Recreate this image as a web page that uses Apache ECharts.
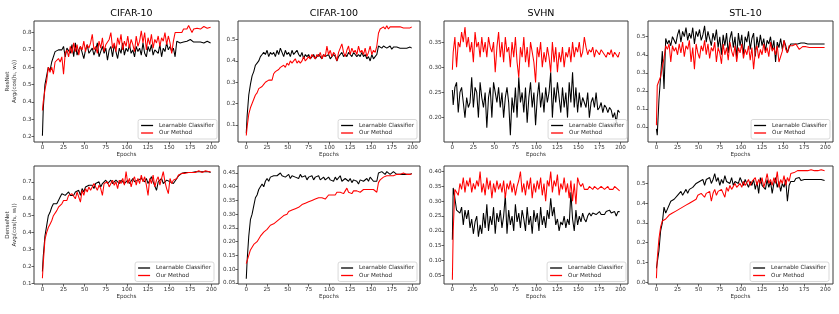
<!DOCTYPE html>
<html>
<head>
<meta charset="utf-8">
<script src="https://cdn.jsdelivr.net/npm/echarts@6/dist/echarts.min.js"></script>
<style>html,body{margin:0;padding:0;background:#fff;}#c{width:839px;height:314px;}</style>
</head>
<body>
<div id="c"></div>
<script>
// ---------- data ----------
const epochs = [0,1,3,5,7,9,11,13,15,17,19,21,23,25,27,29,31,33,35,37,39,41,43,45,47,49,51,53,55,57,59,61,63,65,67,69,71,73,75,77,79,81,83,85,87,89,91,93,95,97,99,101,103,105,107,109,111,113,115,117,119,121,123,125,127,129,131,133,135,137,139,141,143,145,147,149,151,153,155,157,159,161,163,165,167,169,171,173,175,177,179,181,183,185,187,189,191,193,195,197,199];

const titles = ['CIFAR-10','CIFAR-100','SVHN','STL-10'];
const rowNames = ['ResNet','DenseNet'];
const seriesNames = ['Learnable Classifier','Our Method'];
const xTicks = [0,25,50,75,100,125,150,175,200];

const yTicks_resC10 = [0.2,0.3,0.4,0.5,0.6,0.7,0.8];
const yTicks_resC100 = [0.1,0.2,0.3,0.4,0.5];
const yTicks_resSVHN = [0.20,0.25,0.30,0.35];
const yTicks_resSTL = [0.0,0.1,0.2,0.3,0.4,0.5];
const yTicks_denC10 = [0.1,0.2,0.3,0.4,0.5,0.6,0.7];
const yTicks_denC100 = [0.05,0.10,0.15,0.20,0.25,0.30,0.35,0.40,0.45];
const yTicks_denSVHN = [0.05,0.10,0.15,0.20,0.25,0.30,0.35,0.40];
const yTicks_denSTL = [0.0,0.1,0.2,0.3,0.4,0.5];

const resC10_lc = [0.205,0.36,0.50,0.55,0.60,0.58,0.63,0.64,0.69,0.68,
 0.70,0.69,0.70,0.72,0.66,0.71,0.70,0.68,0.73,0.66,
 0.74,0.67,0.70,0.72,0.71,0.65,0.70,0.73,0.68,0.69,
 0.71,0.67,0.70,0.74,0.66,0.69,0.72,0.68,0.71,0.64,
 0.70,0.72,0.66,0.73,0.69,0.65,0.71,0.68,0.74,0.67,
 0.71,0.69,0.73,0.68,0.70,0.66,0.72,0.69,0.71,0.67,
 0.74,0.68,0.66,0.72,0.69,0.73,0.67,0.70,0.71,0.68,
 0.73,0.66,0.71,0.69,0.74,0.70,0.72,0.69,0.71,0.66,
 0.75,0.745,0.74,0.75,0.745,0.74,0.75,0.755,0.76,0.75,
 0.745,0.75,0.745,0.74,0.745,0.75,0.74,0.745,0.75,0.745,
 0.74];
const resC10_om = [0.35,0.40,0.47,0.52,0.60,0.57,0.60,0.56,0.63,0.62,
 0.65,0.63,0.66,0.56,0.68,0.70,0.66,0.72,0.68,0.74,
 0.69,0.73,0.67,0.72,0.70,0.75,0.69,0.73,0.71,0.74,
 0.79,0.70,0.72,0.68,0.75,0.71,0.77,0.69,0.73,0.72,
 0.76,0.80,0.71,0.74,0.69,0.77,0.73,0.79,0.70,0.75,
 0.72,0.78,0.71,0.76,0.73,0.69,0.78,0.72,0.75,0.81,
 0.74,0.80,0.70,0.77,0.73,0.79,0.71,0.76,0.74,0.78,
 0.72,0.77,0.75,0.80,0.73,0.78,0.74,0.68,0.75,0.80,
 0.79,0.80,0.81,0.80,0.82,0.81,0.82,0.84,0.83,0.80,
 0.82,0.83,0.825,0.83,0.82,0.83,0.835,0.83,0.825,0.835,
 0.83];

const resC100_lc = [0.06,0.14,0.24,0.29,0.33,0.35,0.38,0.39,0.40,0.42,
 0.43,0.44,0.43,0.45,0.42,0.44,0.43,0.44,0.42,0.45,
 0.43,0.46,0.44,0.42,0.45,0.43,0.44,0.42,0.45,0.43,
 0.44,0.45,0.43,0.42,0.44,0.41,0.43,0.42,0.43,0.41,
 0.42,0.43,0.41,0.42,0.43,0.42,0.41,0.43,0.42,0.42,
 0.43,0.41,0.42,0.43,0.42,0.40,0.42,0.43,0.44,0.42,
 0.43,0.42,0.44,0.43,0.42,0.44,0.43,0.42,0.43,0.42,
 0.44,0.42,0.43,0.41,0.42,0.40,0.43,0.41,0.42,0.43,
 0.47,0.465,0.46,0.47,0.465,0.46,0.465,0.47,0.455,0.465,
 0.46,0.465,0.46,0.46,0.465,0.46,0.465,0.46,0.46,0.465,
 0.46];
const resC100_om = [0.05,0.09,0.15,0.18,0.20,0.22,0.24,0.25,0.27,0.27,
 0.28,0.29,0.30,0.30,0.31,0.31,0.31,0.34,0.35,0.35,
 0.36,0.37,0.37,0.38,0.37,0.39,0.38,0.40,0.39,0.40,
 0.41,0.39,0.40,0.39,0.40,0.42,0.40,0.41,0.42,0.41,
 0.43,0.42,0.41,0.43,0.42,0.44,0.41,0.43,0.42,0.47,
 0.43,0.45,0.42,0.44,0.43,0.40,0.44,0.46,0.48,0.44,
 0.42,0.45,0.47,0.43,0.46,0.44,0.45,0.43,0.47,0.44,
 0.45,0.43,0.46,0.42,0.44,0.47,0.43,0.45,0.44,0.47,
 0.53,0.55,0.555,0.56,0.55,0.565,0.55,0.56,0.555,0.56,
 0.555,0.56,0.555,0.56,0.565,0.555,0.56,0.555,0.56,0.555,
 0.56];

const resSVHN_lc = [0.255,0.225,0.26,0.27,0.21,0.25,0.26,0.23,0.20,0.24,
 0.22,0.23,0.28,0.22,0.26,0.25,0.20,0.27,0.24,0.22,
 0.25,0.18,0.24,0.26,0.20,0.27,0.25,0.23,0.26,0.22,
 0.25,0.20,0.24,0.26,0.23,0.165,0.24,0.21,0.26,0.20,
 0.28,0.23,0.25,0.21,0.26,0.19,0.24,0.27,0.22,0.25,
 0.185,0.24,0.27,0.22,0.25,0.21,0.26,0.23,0.25,0.29,
 0.20,0.26,0.23,0.27,0.24,0.21,0.26,0.22,0.25,0.20,
 0.27,0.23,0.29,0.22,0.26,0.21,0.25,0.22,0.24,0.23,
 0.22,0.25,0.20,0.23,0.24,0.22,0.25,0.215,0.22,0.23,
 0.21,0.225,0.22,0.21,0.22,0.215,0.20,0.21,0.19,0.215,
 0.21];
const resSVHN_om = [0.295,0.33,0.36,0.30,0.35,0.34,0.37,0.35,0.38,0.34,
 0.36,0.33,0.35,0.31,0.37,0.34,0.35,0.32,0.36,0.33,
 0.35,0.32,0.36,0.34,0.33,0.35,0.29,0.34,0.37,0.32,
 0.35,0.31,0.36,0.33,0.34,0.30,0.35,0.32,0.36,0.31,
 0.28,0.34,0.32,0.36,0.31,0.34,0.30,0.35,0.33,0.31,
 0.27,0.34,0.32,0.35,0.30,0.33,0.31,0.34,0.32,0.29,
 0.35,0.31,0.34,0.29,0.33,0.31,0.34,0.30,0.33,0.32,
 0.34,0.31,0.35,0.32,0.34,0.33,0.35,0.32,0.33,0.36,
 0.34,0.325,0.335,0.33,0.34,0.32,0.335,0.33,0.325,0.335,
 0.33,0.325,0.32,0.33,0.325,0.335,0.32,0.33,0.325,0.32,
 0.33];

const resSTL_lc = [-0.01,-0.045,0.15,0.28,0.42,0.21,0.49,0.46,0.48,0.45,
 0.50,0.48,0.46,0.51,0.54,0.47,0.53,0.50,0.55,0.48,
 0.52,0.49,0.55,0.46,0.53,0.50,0.54,0.48,0.51,0.56,
 0.47,0.53,0.49,0.45,0.52,0.48,0.54,0.44,0.50,0.40,
 0.51,0.45,0.52,0.41,0.49,0.53,0.44,0.50,0.38,0.52,
 0.45,0.51,0.40,0.50,0.47,0.53,0.43,0.49,0.52,0.39,
 0.50,0.44,0.51,0.45,0.49,0.42,0.48,0.46,0.50,0.43,
 0.48,0.36,0.47,0.44,0.49,0.43,0.48,0.45,0.41,0.44,
 0.46,0.45,0.46,0.465,0.46,0.47,0.465,0.46,0.465,0.465,
 0.46,0.465,0.46,0.465,0.46,0.465,0.46,0.465,0.46,0.46,
 0.46];
const resSTL_om = [0.01,0.23,0.22,0.28,0.33,0.38,0.45,0.43,0.46,0.36,
 0.45,0.42,0.44,0.40,0.46,0.41,0.47,0.39,0.45,0.43,
 0.48,0.36,0.44,0.32,0.46,0.41,0.38,0.45,0.42,0.48,
 0.40,0.46,0.38,0.44,0.42,0.47,0.36,0.44,0.41,0.35,
 0.46,0.40,0.44,0.37,0.47,0.42,0.39,0.45,0.36,0.44,
 0.41,0.46,0.38,0.43,0.40,0.45,0.37,0.44,0.32,0.42,
 0.45,0.38,0.43,0.40,0.46,0.41,0.44,0.39,0.47,0.42,
 0.44,0.40,0.45,0.36,0.35,0.42,0.48,0.43,0.41,0.45,
 0.44,0.45,0.45,0.46,0.45,0.43,0.44,0.445,0.44,0.445,
 0.445,0.44,0.445,0.44,0.445,0.44,0.445,0.44,0.445,0.44,
 0.44];

const denC10_lc = [0.17,0.26,0.38,0.44,0.50,0.52,0.55,0.57,0.58,0.57,
 0.59,0.61,0.63,0.62,0.62,0.61,0.64,0.62,0.63,0.62,
 0.64,0.63,0.65,0.62,0.66,0.64,0.67,0.66,0.68,0.67,
 0.68,0.66,0.69,0.68,0.70,0.67,0.69,0.70,0.71,0.69,
 0.70,0.71,0.69,0.70,0.71,0.70,0.69,0.71,0.70,0.69,
 0.70,0.71,0.69,0.70,0.72,0.70,0.69,0.71,0.70,0.72,
 0.71,0.70,0.72,0.69,0.71,0.73,0.70,0.71,0.65,0.70,
 0.71,0.72,0.69,0.70,0.71,0.72,0.70,0.71,0.69,0.70,
 0.72,0.735,0.745,0.75,0.75,0.755,0.75,0.755,0.76,0.755,
 0.755,0.76,0.755,0.76,0.755,0.76,0.755,0.76,0.755,0.76,
 0.755];
const denC10_om = [0.13,0.22,0.36,0.40,0.43,0.45,0.47,0.50,0.51,0.53,
 0.55,0.56,0.57,0.59,0.60,0.59,0.62,0.61,0.63,0.62,
 0.60,0.64,0.63,0.58,0.65,0.62,0.66,0.64,0.67,0.65,
 0.66,0.69,0.67,0.65,0.68,0.66,0.62,0.69,0.68,0.70,
 0.67,0.69,0.71,0.68,0.70,0.66,0.71,0.69,0.72,0.68,
 0.76,0.69,0.72,0.67,0.71,0.73,0.68,0.72,0.69,0.74,
 0.70,0.73,0.68,0.62,0.72,0.69,0.74,0.67,0.71,0.73,
 0.68,0.72,0.76,0.70,0.66,0.63,0.72,0.69,0.71,0.70,
 0.72,0.74,0.745,0.75,0.755,0.75,0.76,0.755,0.76,0.755,
 0.76,0.755,0.76,0.765,0.76,0.755,0.76,0.765,0.76,0.76,
 0.76];

const denC100_lc = [0.065,0.13,0.22,0.28,0.30,0.33,0.36,0.37,0.39,0.40,
 0.41,0.40,0.42,0.43,0.42,0.435,0.43,0.44,0.435,0.44,
 0.445,0.45,0.44,0.445,0.435,0.44,0.445,0.43,0.44,0.445,
 0.435,0.44,0.43,0.445,0.435,0.43,0.44,0.425,0.435,0.43,
 0.44,0.425,0.435,0.43,0.44,0.425,0.43,0.435,0.425,0.43,
 0.435,0.425,0.43,0.42,0.435,0.425,0.43,0.44,0.42,0.425,
 0.43,0.425,0.42,0.43,0.415,0.425,0.43,0.42,0.41,0.425,
 0.43,0.42,0.425,0.43,0.42,0.435,0.43,0.42,0.425,0.42,
 0.45,0.45,0.455,0.45,0.445,0.455,0.45,0.445,0.45,0.455,
 0.45,0.445,0.45,0.445,0.45,0.445,0.45,0.445,0.45,0.445,
 0.448];
const denC100_om = [0.12,0.12,0.15,0.17,0.18,0.19,0.195,0.20,0.21,0.22,
 0.225,0.235,0.24,0.245,0.25,0.26,0.26,0.265,0.27,0.275,
 0.28,0.285,0.29,0.295,0.30,0.30,0.31,0.305,0.315,0.315,
 0.32,0.32,0.325,0.33,0.335,0.335,0.34,0.34,0.345,0.345,
 0.35,0.35,0.355,0.355,0.36,0.355,0.36,0.365,0.355,0.36,
 0.37,0.365,0.37,0.375,0.37,0.38,0.375,0.38,0.385,0.375,
 0.38,0.395,0.38,0.385,0.375,0.385,0.38,0.385,0.39,0.38,
 0.385,0.39,0.385,0.39,0.395,0.39,0.395,0.39,0.385,0.38,
 0.415,0.425,0.43,0.435,0.435,0.44,0.44,0.44,0.445,0.44,
 0.44,0.445,0.445,0.445,0.445,0.45,0.445,0.445,0.45,0.445,
 0.447];

const denSVHN_lc = [0.17,0.345,0.31,0.27,0.27,0.26,0.28,0.22,0.27,0.24,
 0.27,0.21,0.24,0.19,0.23,0.25,0.18,0.22,0.19,0.26,
 0.21,0.29,0.20,0.25,0.22,0.28,0.19,0.26,0.23,0.27,
 0.21,0.25,0.32,0.19,0.27,0.22,0.25,0.20,0.29,0.23,
 0.26,0.21,0.27,0.24,0.20,0.28,0.22,0.25,0.19,0.27,
 0.23,0.26,0.20,0.28,0.22,0.25,0.21,0.27,0.24,0.31,
 0.25,0.28,0.22,0.24,0.20,0.23,0.22,0.25,0.21,0.24,
 0.22,0.33,0.24,0.20,0.27,0.22,0.25,0.23,0.26,0.24,
 0.23,0.25,0.26,0.25,0.26,0.265,0.255,0.26,0.265,0.255,
 0.26,0.255,0.265,0.26,0.27,0.26,0.255,0.265,0.25,0.265,
 0.265];
const denSVHN_om = [0.035,0.20,0.34,0.33,0.32,0.36,0.34,0.38,0.33,0.37,
 0.35,0.38,0.33,0.36,0.34,0.37,0.35,0.40,0.33,0.36,
 0.32,0.38,0.34,0.37,0.31,0.36,0.33,0.37,0.34,0.36,
 0.33,0.37,0.31,0.36,0.34,0.37,0.33,0.36,0.32,0.35,
 0.37,0.40,0.33,0.36,0.32,0.37,0.34,0.38,0.31,0.36,
 0.33,0.37,0.34,0.38,0.32,0.36,0.30,0.37,0.35,0.40,
 0.33,0.37,0.35,0.39,0.32,0.36,0.34,0.38,0.33,0.36,
 0.31,0.37,0.30,0.36,0.29,0.38,0.36,0.35,0.36,0.34,
 0.345,0.34,0.35,0.345,0.34,0.35,0.345,0.34,0.345,0.35,
 0.345,0.34,0.345,0.35,0.34,0.345,0.34,0.35,0.345,0.34,
 0.335];

const denSTL_lc = [0.07,0.10,0.16,0.26,0.30,0.38,0.35,0.37,0.38,0.41,
 0.40,0.42,0.41,0.44,0.43,0.46,0.44,0.45,0.47,0.45,
 0.47,0.46,0.48,0.47,0.50,0.49,0.51,0.50,0.52,0.49,
 0.52,0.51,0.53,0.50,0.52,0.55,0.51,0.53,0.49,0.52,
 0.50,0.54,0.51,0.52,0.50,0.53,0.49,0.51,0.52,0.50,
 0.53,0.51,0.49,0.52,0.50,0.48,0.51,0.49,0.52,0.47,
 0.51,0.45,0.53,0.49,0.50,0.47,0.52,0.48,0.51,0.45,
 0.50,0.53,0.48,0.51,0.46,0.50,0.48,0.52,0.41,0.49,
 0.51,0.52,0.51,0.525,0.52,0.53,0.515,0.525,0.52,0.53,
 0.52,0.525,0.52,0.53,0.52,0.525,0.52,0.525,0.52,0.52,
 0.515];
const denSTL_om = [0.02,0.12,0.22,0.28,0.31,0.32,0.32,0.33,0.34,0.33,
 0.35,0.34,0.36,0.35,0.37,0.36,0.38,0.37,0.39,0.38,
 0.40,0.39,0.41,0.40,0.42,0.44,0.43,0.45,0.44,0.43,
 0.45,0.44,0.46,0.41,0.45,0.47,0.44,0.46,0.45,0.47,
 0.46,0.43,0.48,0.46,0.49,0.47,0.48,0.50,0.48,0.49,
 0.50,0.48,0.51,0.49,0.50,0.52,0.49,0.51,0.50,0.53,
 0.49,0.52,0.50,0.53,0.48,0.51,0.55,0.50,0.52,0.49,
 0.53,0.50,0.56,0.48,0.52,0.50,0.54,0.49,0.53,0.51,
 0.55,0.56,0.555,0.56,0.565,0.56,0.565,0.56,0.565,0.57,
 0.565,0.565,0.57,0.565,0.565,0.57,0.565,0.565,0.57,0.565,
 0.565];

// ---------- layout ----------
const FONT = '"DejaVu Sans", sans-serif';
const cols = [{left:34,width:185},{left:238,width:182},{left:444,width:184},{left:648,width:185}];
const rows = [{top:21,height:121},{top:166,height:118}];
const legendRight = [[217,417,627,830],[214,417,626,829]];
const legendTop = [119.5,262];

const panels = [
  {r:0,c:0,lc:resC10_lc,om:resC10_om,yr:[0.1685,0.8665],yt:yTicks_resC10,dec:1},
  {r:0,c:1,lc:resC100_lc,om:resC100_om,yr:[0.0195,0.5875],yt:yTicks_resC100,dec:1},
  {r:0,c:2,lc:resSVHN_lc,om:resSVHN_om,yr:[0.1515,0.392],yt:yTicks_resSVHN,dec:2},
  {r:0,c:3,lc:resSTL_lc,om:resSTL_om,yr:[-0.083,0.587],yt:yTicks_resSTL,dec:1},
  {r:1,c:0,lc:denC10_lc,om:denC10_om,yr:[0.0965,0.7935],yt:yTicks_denC10,dec:1},
  {r:1,c:1,lc:denC100_lc,om:denC100_om,yr:[0.046,0.4755],yt:yTicks_denC100,dec:2},
  {r:1,c:2,lc:denSVHN_lc,om:denSVHN_om,yr:[0.0205,0.419],yt:yTicks_denSVHN,dec:2},
  {r:1,c:3,lc:denSTL_lc,om:denSTL_om,yr:[-0.0095,0.5885],yt:yTicks_denSTL,dec:1}
];

const grid=[], xAxis=[], yAxis=[], series=[], legend=[], title=[], graphic=[];
const labelStyle = {fontFamily:FONT,fontSize:5.6,color:'#333'};
const axisCol = '#3a3a3a';

panels.forEach((p,i)=>{
  grid.push({left:cols[p.c].left, top:rows[p.r].top, width:cols[p.c].width, height:rows[p.r].height,
    show:true, borderColor:axisCol, borderWidth:1, backgroundColor:'#fff'});
  xAxis.push({type:'value', gridIndex:i, min:-9.95, max:208.95, position:'bottom',
    axisLine:{show:false, onZero:false}, splitLine:{show:false},
    axisTick:{show:true, inside:false, length:2.5, customValues:xTicks, lineStyle:{color:axisCol,width:0.8}},
    axisLabel:Object.assign({customValues:xTicks, margin:2.5, formatter:v=>String(v)}, labelStyle),
    name:'Epochs', nameLocation:'middle', nameGap:10,
    nameTextStyle:{fontFamily:FONT,fontSize:5.6,color:'#333',verticalAlign:'top'}});
  yAxis.push({type:'value', gridIndex:i, min:p.yr[0], max:p.yr[1], position:'left',
    axisLine:{show:false, onZero:false}, splitLine:{show:false},
    axisTick:{show:true, inside:false, length:2.5, customValues:p.yt, lineStyle:{color:axisCol,width:0.8}},
    axisLabel:Object.assign({customValues:p.yt, margin:2.5, formatter:v=>Number(v).toFixed(p.dec)}, labelStyle)});
  series.push({type:'line', name:seriesNames[0], xAxisIndex:i, yAxisIndex:i, showSymbol:false, symbol:'none',
    data:epochs.map((e,k)=>[e,p.lc[k]]), lineStyle:{color:'#000',width:1.05}, itemStyle:{color:'#000'}});
  series.push({type:'line', name:seriesNames[1], xAxisIndex:i, yAxisIndex:i, showSymbol:false, symbol:'none',
    data:epochs.map((e,k)=>[e,p.om[k]]), lineStyle:{color:'#ff0000',width:1.05}, itemStyle:{color:'#ff0000'}});
  legend.push({data:seriesNames, orient:'vertical', right:839-legendRight[p.r][p.c], top:legendTop[p.r],
    icon:'rect', itemWidth:12, itemHeight:1.3, itemGap:1.5, padding:[3,3,3,3],
    borderColor:'#cfcfcf', borderWidth:0.8, borderRadius:2, backgroundColor:'rgba(255,255,255,0.85)',
    textStyle:{fontFamily:FONT,fontSize:5.6,color:'#222',padding:[0,0,0,1]}, itemStyle:{borderWidth:0}, selectedMode:false});
});

titles.forEach((t,c)=>{
  title.push({text:t, left:cols[c].left + cols[c].width/2, top:4, textAlign:'center',
    textStyle:{fontFamily:FONT,fontSize:9.5,fontWeight:'normal',color:'#000'}});
});

rowNames.forEach((n,r)=>{
  const cy = rows[r].top + rows[r].height/2;
  graphic.push({type:'text', x:8, y:cy, rotation:Math.PI/2,
    style:{text:n, font:'5.6px '+FONT, fill:'#333', align:'center', verticalAlign:'middle', textAlign:'center', textVerticalAlign:'middle'}});
  graphic.push({type:'text', x:15, y:cy, rotation:Math.PI/2,
    style:{text:'Avg\u1d62(cos(h\u1d62, w\u1d62))', font:'5.6px '+FONT, fill:'#333', align:'center', verticalAlign:'middle', textAlign:'center', textVerticalAlign:'middle'}});
});

const chart = echarts.init(document.getElementById('c'), null, {renderer:'canvas'});
chart.setOption({animation:false, backgroundColor:'#fff', title, grid, xAxis, yAxis, series, legend, graphic});
</script>
</body>
</html>
